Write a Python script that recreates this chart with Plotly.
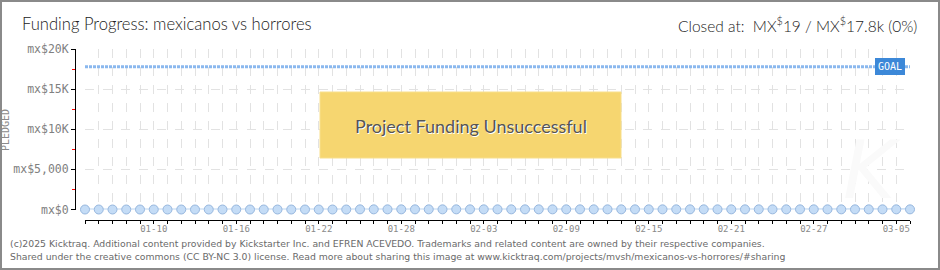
import datetime as dt
import plotly.graph_objects as go

# ---- data -------------------------------------------------------------
start = dt.date(2025, 1, 5)
dates = [start + dt.timedelta(days=i) for i in range(61)]          # 01-05 .. 03-06
pledged = [0] * 20 + [19] * 41                                      # MX$ pledged per day
goal = 17800
tick_labels = {"01-10", "01-16", "01-22", "01-28", "02-03", "02-09",
               "02-15", "02-21", "02-27", "03-05"}
y_ticks = [0, 5000, 10000, 15000, 20000]
y_tick_text = ["mx$0", "mx$5,000", "mx$10K", "mx$15K", "mx$20K"]

# ---- canvas geometry --------------------------------------------------
W, H = 940, 270
L, R, T, B = 75, 30, 49, 50
PW, PH = W - L - R, H - T - B


def px(x):
    return (x - L) / PW


def py(y):
    return (H - B - y) / PH


HEAD_FONT = "Lato, Roboto, sans-serif"

fig = go.Figure()

# goal line
fig.add_trace(go.Scatter(
    x=[dates[0], dates[-1]], y=[goal, goal], mode="lines",
    line=dict(color="#8ab8ee", width=3, dash="3px,1px"),
    hoverinfo="skip", showlegend=False))

# pledged series
fig.add_trace(go.Scatter(
    x=dates, y=pledged, mode="lines+markers", cliponaxis=False,
    line=dict(color="#bcd6f2", width=2),
    marker=dict(size=9, color="#c4dcf6", line=dict(color="#97b7de", width=1)),
    showlegend=False))

tick_text = [d.strftime("%m-%d") if d.strftime("%m-%d") in tick_labels else ""
             for d in dates]

fig.update_layout(
    width=W, height=H,
    margin=dict(l=L, r=R, t=T, b=B, pad=0),
    paper_bgcolor="white", plot_bgcolor="white",
    xaxis=dict(
        type="date", range=[dates[0], dates[-1]],
        domain=[px(85), 1], anchor="free", position=0,
        tickmode="array", tickvals=dates, ticktext=tick_text,
        ticks="outside", ticklen=3, tickcolor="black", tickwidth=1,
        ticklabelstandoff=-3,
        showline=True, linecolor="black", linewidth=1,
        showgrid=True, gridcolor="#e2e2e2", griddash="dash", gridwidth=1,
        zeroline=False,
        tickfont=dict(family="DejaVu Sans Mono", size=9, color="#8a8a8a"),
    ),
    yaxis=dict(
        range=[0, 20000], domain=[py(209.5), 1], anchor="free", position=0,
        tickmode="array", tickvals=y_ticks, ticktext=y_tick_text,
        ticks="outside", ticklen=4, tickcolor="black", tickwidth=1,
        showline=True, linecolor="black", linewidth=1,
        showgrid=True, gridcolor="#e2e2e2", griddash="dash", gridwidth=1,
        zeroline=False,
        minor=dict(tickmode="linear", tick0=2500, dtick=5000,
                   ticks="outside", ticklen=3,
                   tickcolor="red", tickwidth=1, showgrid=False),
        tickfont=dict(family="DejaVu Sans Mono", size=11.5, color="#808080"),
    ),
)

shapes = [
    # outer frame
    dict(type="rect", xref="paper", yref="paper",
         x0=px(1), x1=px(939), y0=py(269), y1=py(1),
         line=dict(color="#8a8a8a", width=2), fillcolor="rgba(0,0,0,0)",
         layer="above"),
    # status banner
    dict(type="rect", xref="paper", yref="paper",
         x0=px(320), x1=px(621), y0=py(158), y1=py(92),
         line=dict(color="#f8df8c", width=1), fillcolor="#f6d670",
         layer="above"),
]
fig.update_layout(shapes=shapes)

annotations = [
    dict(text="Funding Progress: mexicanos vs horrores",
         x=px(20), y=py(24), xanchor="left", yanchor="middle",
         font=dict(family=HEAD_FONT, size=16.6, color="#222", weight=300)),
    dict(text="Closed at:  MX<sup>$</sup>19 / MX<sup>$</sup>17.8k (0%)",
         x=px(919), y=py(24), xanchor="right", yanchor="middle",
         font=dict(family=HEAD_FONT, size=15.5, color="#222", weight=300)),
    dict(text="Project Funding Unsuccessful",
         x=px(470.5), y=py(126), xanchor="center", yanchor="middle",
         font=dict(family=HEAD_FONT, size=18, color="#555",
                   shadow="1px 1px 0px #ffffff")),
    dict(text="GOAL", x=dates[-1], y=goal, xref="x", yref="y",
         xanchor="right", yanchor="middle", xshift=-5,
         bgcolor="#3c88d8", bordercolor="#3c88d8", borderpad=2,
         font=dict(family="DejaVu Sans Mono", size=10, color="white")),
    dict(text="PLEDGED", textangle=-90,
         x=px(5), y=py(130), xanchor="center", yanchor="middle",
         font=dict(family="DejaVu Sans Mono", size=10, color="#8a8a8a")),
    dict(text="K", x=px(872), y=py(170), xanchor="center", yanchor="middle",
         font=dict(family="DejaVu Sans", size=80, color="#fafafa",
                   style="italic")),
    dict(text="(c)2025 Kicktraq. Additional content provided by Kickstarter Inc. "
              "and EFREN ACEVEDO. Trademarks and related content are owned by "
              "their respective companies.",
         x=px(8), y=py(243), xanchor="left", yanchor="middle",
         font=dict(family="DejaVu Sans", size=9.3, color="#6a6a6a")),
    dict(text="Shared under the creative commons (CC BY-NC 3.0) license. Read more "
              "about sharing this image at "
              "www.kicktraq.com/projects/mvsh/mexicanos-vs-horrores/#sharing",
         x=px(8), y=py(256), xanchor="left", yanchor="middle",
         font=dict(family="DejaVu Sans", size=9.3, color="#6a6a6a")),
]
for a in annotations:
    a.setdefault("xref", "paper")
    a.setdefault("yref", "paper")
    a.setdefault("showarrow", False)
fig.update_layout(annotations=annotations)

fig.write_html("out.html")
